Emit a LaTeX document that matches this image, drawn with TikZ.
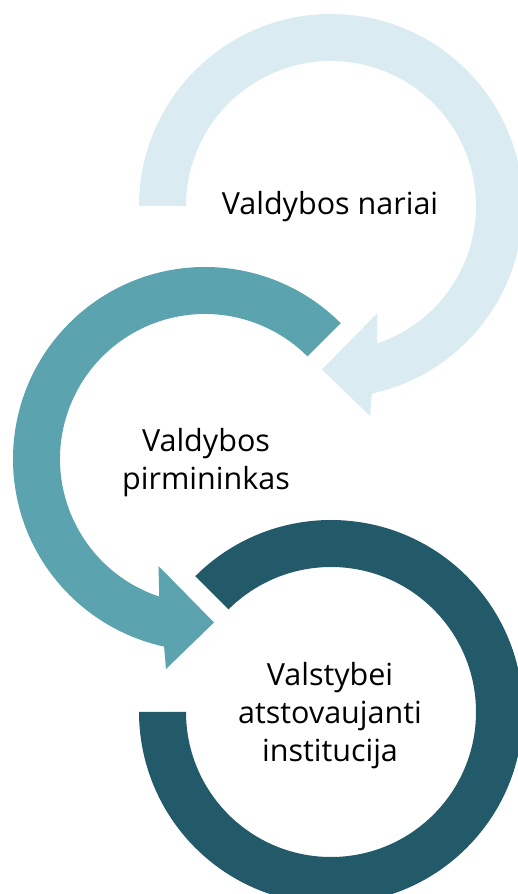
\documentclass[tikz,border=0pt]{standalone}
\usepackage{fontspec}
\setmainfont{Open Sans}
\definecolor{lightc}{RGB}{218,236,242}
\definecolor{tealc}{RGB}{91,163,174}
\definecolor{darkc}{RGB}{35,90,105}
\begin{document}
\begin{tikzpicture}[x=1pt,y=1pt,
  lbl/.style={align=center,text=black,inner sep=0pt,font=\fontsize{30.5}{38}\selectfont}]
\useasboundingbox (0,0) rectangle (518,894);
\clip (0,0) rectangle (518,894);
% top ring (light)
\begin{scope}[shift={(331,688)}]
\fill[lightc] (180:192) arc[start angle=180,end angle=-77.7,radius=192]
  -- (39,-210) -- (-9,-163.5) -- (46.5,-107) -- (-71.6:145)
  arc[start angle=-71.6,end angle=180,radius=145] -- cycle;
\end{scope}
% middle ring (teal)
\begin{scope}[shift={(205,435)}]
\fill[tealc] (45:192) arc[start angle=45,end angle=257.7,radius=192]
  -- (-39,-210) -- (9,-163.5) -- (-46.5,-107) -- (251.6:145)
  arc[start angle=251.6,end angle=45,radius=145] -- cycle;
\end{scope}
% bottom ring (dark)
\begin{scope}[shift={(331,182)}]
\fill[darkc] (135:192) arc[start angle=135,end angle=-180,radius=192]
  -- (180:145) arc[start angle=-180,end angle=135,radius=145] -- cycle;
\end{scope}
\node[lbl] (t1) at (330,687) {Valdybos nariai};
\node[lbl] (t2) at (206,431) {Valdybos\\pirmininkas};
\node[lbl] (t3) at (330,178) {Valstybei\\atstovaujanti\\institucija};
\end{tikzpicture}
\end{document}
